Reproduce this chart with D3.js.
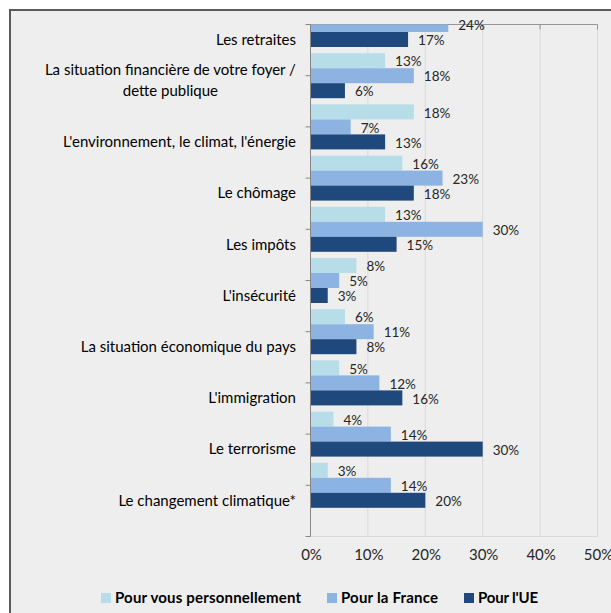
<!DOCTYPE html>
<html>
<head>
<meta charset="utf-8">
<script src="https://cdn.jsdelivr.net/npm/d3@7"></script>
<style>
  html, body { margin: 0; padding: 0; background: #fff; }
  svg { display: block; }
  text { font-family: Lato, "Open Sans", sans-serif; }
</style>
</head>
<body>
<div id="chart"></div>
<script>
(function () {

    // categories (top to bottom), multi-line labels split on "|"
    var categories = [
        "Les retraites",
        "La situation financière de votre foyer /|dette publique",
        "L'environnement, le climat, l'énergie",
        "Le chômage",
        "Les impôts",
        "L'insécurité",
        "La situation économique du pays",
        "L'immigration",
        "Le terrorisme",
        "Le changement climatique*"
    ];
    var seriesNames = ["Pour vous personnellement", "Pour la France", "Pour l'UE"];
    // first value is hidden (cut off) in the source picture
    var personnel = [null, 13, 18, 16, 13, 8, 6, 5, 4, 3];
    var france    = [24, 18, 7, 23, 30, 5, 11, 12, 14, 14];
    var ue        = [17, 6, 13, 18, 15, 3, 8, 16, 30, 20];
    var xTicks = [0, 10, 20, 30, 40, 50];

    var colors = ["#b7dee8", "#8db3e2", "#1f497d"];
    var series = [personnel, france, ue];

    var width = 611, height = 613;
    var left = 310.5, right = 597.5, top = 24.5, bottom = 536.5;

    var svg = d3.select("#chart").append("svg")
        .attr("width", width).attr("height", height);

    // chart frame
    svg.append("rect").attr("x", 10).attr("y", 10)
        .attr("width", width).attr("height", height)
        .style("fill", "#eeeeee")
        .style("stroke", "#5a5a5a").style("stroke-width", 2);

    var x = d3.scaleLinear().domain([0, 50]).range([left, right]);
    var y = d3.scalePoint().domain(categories).range([top, top + 9 * 51.2]);
    var inner = d3.scaleBand().domain(seriesNames).range([-22.5, 22.5]);

    // gridlines
    svg.selectAll(".grid").data(xTicks.slice(1)).enter().append("line")
        .attr("x1", x).attr("x2", x).attr("y1", top).attr("y2", bottom)
        .style("stroke", "#d9d9d9").style("stroke-width", 1);
    svg.append("line").attr("x1", left).attr("x2", right).attr("y1", bottom).attr("y2", bottom)
        .style("stroke", "#d9d9d9");

    // top border of plot with small ticks
    svg.append("line").attr("x1", left).attr("x2", right).attr("y1", top).attr("y2", top)
        .style("stroke", "#969696");
    svg.selectAll(".ttick").data(xTicks).enter().append("line")
        .attr("x1", x).attr("x2", x).attr("y1", top).attr("y2", top + 5)
        .style("stroke", "#969696");

    // clip bars to plot area
    svg.append("clipPath").attr("id", "plotclip").append("rect")
        .attr("x", left - 1).attr("y", top).attr("width", right - left + 40).attr("height", bottom - top);

    var bars = svg.append("g").attr("clip-path", "url(#plotclip)");
    var labels = svg.append("g");

    series.forEach(function (vals, s) {
        var data = categories.map(function (c, i) { return { cat: c, v: vals[i] }; })
            .filter(function (d) { return d.v !== null; });
        bars.selectAll(".b" + s).data(data).enter().append("rect")
            .attr("x", left)
            .attr("y", function (d) { return y(d.cat) + inner(seriesNames[s]); })
            .attr("width", function (d) { return x(d.v) - left; })
            .attr("height", inner.bandwidth())
            .style("fill", colors[s]);
        labels.selectAll(".l" + s).data(data).enter().append("text")
            .attr("x", function (d) { return x(d.v) + 10; })
            .attr("y", function (d) { return y(d.cat) + inner(seriesNames[s]) + inner.bandwidth() / 2 + 1; })
            .attr("dy", "0.35em")
            .style("font-size", "13.5px").style("fill", "#262626")
            .text(function (d) { return d.v + "%"; });
    });

    // left axis
    svg.append("line").attr("x1", left).attr("x2", left).attr("y1", top).attr("y2", bottom)
        .style("stroke", "#868686");
    var yTicks = categories.map(function (c) { return y(c); }).concat([bottom]);
    svg.selectAll(".ytick").data(yTicks).enter().append("line")
        .attr("x1", left - 5).attr("x2", left).attr("y1", function (d) { return d; }).attr("y2", function (d) { return d; })
        .style("stroke", "#868686");

    // category labels, last line aligned with the third bar
    categories.forEach(function (c) {
        var lines = c.split("|");
        var base = y(c) + 15;
        var t = svg.append("text")
            .attr("text-anchor", "middle")
            .style("font-size", "15px").style("fill", "#000");
        lines.forEach(function (ln, k) {
            t.append("tspan").attr("x", 0)
                .attr("y", base - (lines.length - 1 - k) * 21)
                .attr("dy", "0.35em").text(ln);
        });
        var w = t.node().getBBox().width;
        t.selectAll("tspan").attr("x", 296 - w / 2);
    });

    // x tick labels (50% is cut by the right edge, as in the source)
    svg.selectAll(".xl").data(xTicks).enter().append("text")
        .attr("x", function (d) { return x(d) + 1; }).attr("y", 555).attr("dy", "0.35em")
        .attr("text-anchor", "middle")
        .style("font-size", "15px").style("fill", "#262626")
        .text(function (d) { return d + "%"; });

    // legend
    var legendX = [101, 327, 464];
    var legendW = [186, 97, 60];
    seriesNames.forEach(function (n, s) {
        svg.append("rect").attr("x", legendX[s]).attr("y", 593).attr("width", 10).attr("height", 10)
            .style("fill", colors[s]);
        svg.append("text").attr("x", legendX[s] + 14).attr("y", 598).attr("dy", "0.35em")
            .attr("textLength", legendW[s]).attr("lengthAdjust", "spacing")
            .style("font-size", "15px").style("font-weight", "bold").style("fill", "#000")
            .text(n);
    });
}());
</script>
</body>
</html>
